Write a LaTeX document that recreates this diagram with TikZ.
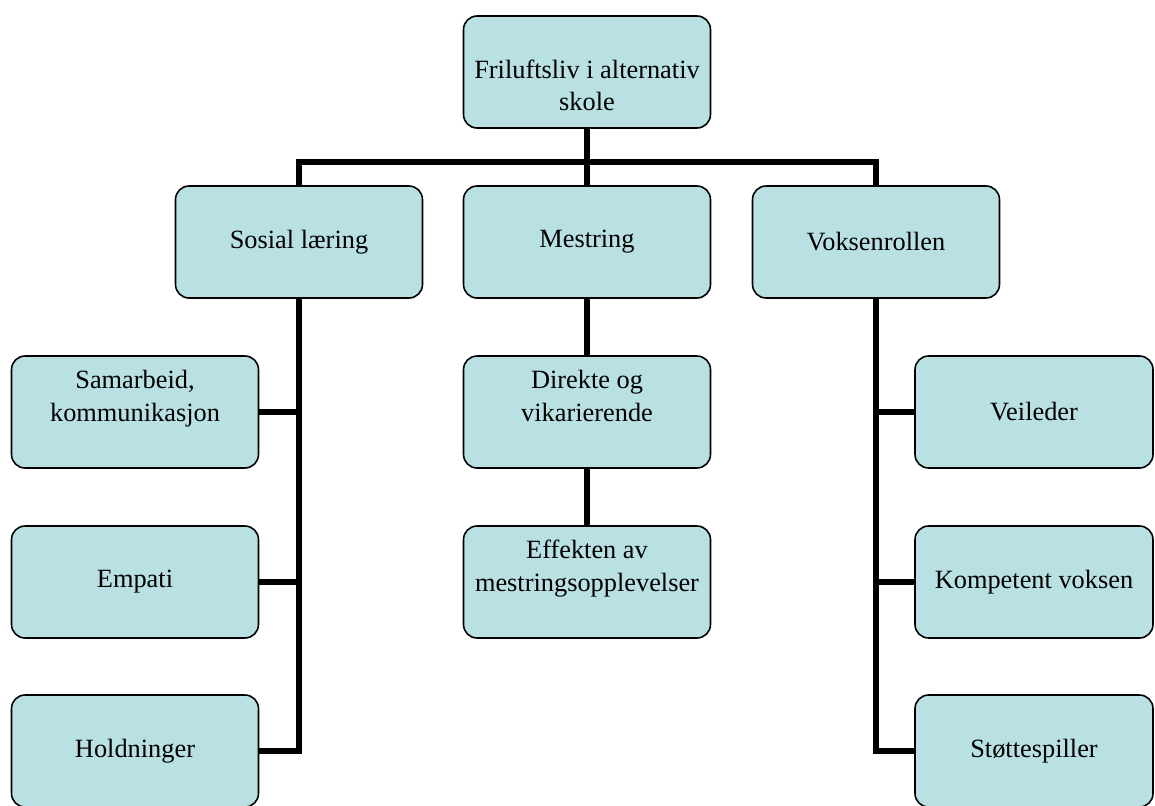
\documentclass[tikz,border=0pt]{standalone}
\usepackage{fontspec}
\setmainfont{Liberation Serif}
\usepackage{xcolor,tikz}
\usetikzlibrary{positioning}
\definecolor{boxfill}{RGB}{185,224,227}
\tikzset{box/.style={draw=black,line width=0.9pt,rounded corners=0.27cm,fill=boxfill,align=center,
 minimum width=4.94cm,minimum height=2.24cm,inner sep=2pt,font=\fontsize{15}{18.6}\selectfont},
 rbox/.style={box,minimum width=4.76cm},
 link/.style={draw=black,line width=3.4pt}}

\begin{document}
\begin{tikzpicture}[x=0.02cm,y=-0.02cm]
\useasboundingbox (0,0) rectangle (1155,805);
\node[box] (top) at (587,72) {\mbox{}\\[7pt]Friluftsliv i alternativ\\skole};
\node[box] (sos) at (299,242) {Sosial læring};
\node[box] (mes) at (587,242) {Mestring};
\node[box] (vok) at (876,242) {Voksenrollen};
\node[box] (sam) at (135,412) {Samarbeid,\\kommunikasjon\\\mbox{}};
\node[box] (emp) at (135,582) {Empati};
\node[box] (hol) at (135,751) {Holdninger};
\node[box] (dir) at (587,412) {Direkte og\\vikarierende\\\mbox{}};
\node[box] (eff) at (587,582) {Effekten av\\mestringsopplevelser\\\mbox{}};
\node[rbox] (vei) at (1034,412) {Veileder};
\node[rbox] (kom) at (1034,582) {Kompetent voksen};
\node[rbox] (sto) at (1034,751) {Støttespiller};
\coordinate (bus) at (587,162);
% tree lines
\draw[link] (top) -- (bus) -| (sos);
\draw[link] (bus) -| (vok);
\draw[link] (bus) -- (mes);
\draw[link] (sos) |- (sam);
\draw[link] (sos) |- (emp);
\draw[link] (sos) |- (hol);
\draw[link] (mes) -- (dir);
\draw[link] (dir) -- (eff);
\draw[link] (vok) |- (vei);
\draw[link] (vok) |- (kom);
\draw[link] (vok) |- (sto);
\end{tikzpicture}
\end{document}
